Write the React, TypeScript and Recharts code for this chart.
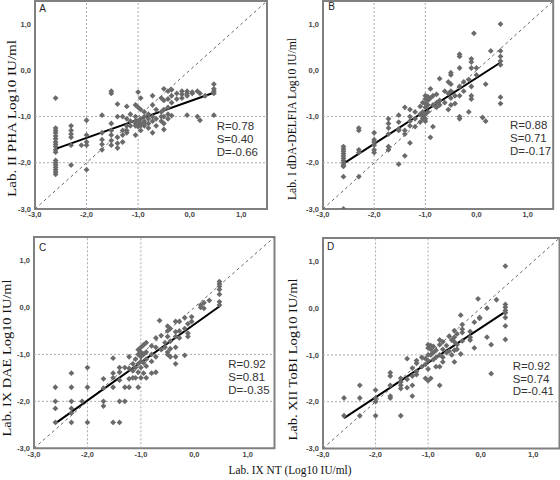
import React from 'react';
import {
  ScatterChart,
  Scatter,
  XAxis,
  YAxis,
  ZAxis,
  ReferenceLine,
  ReferenceArea
} from 'recharts';

type Col = [number, number[]];
type Pt = { x: number; y: number };

const TICKS = [-3, -2, -1, 0, 1];
const DOMAIN: [number, number] = [-3, 1.5];
const GRID = [-2, -1];

// Lab. II PHA vs Lab. IX NT
const colsA: Col[] = [
  [-2.6, [-0.6, -1.25, -1.3, -1.35, -1.42, -1.48, -1.55, -1.6, -1.65, -1.72, -1.77, -1.95, -2.0, -2.05, -2.1, -2.15, -2.2, -2.25]],
  [-2.3, [-1.2, -1.3, -1.38, -1.45, -1.62, -2.05]],
  [-2.1, [-1.62]],
  [-2.0, [-1.08, -1.4, -1.55, -1.62, -2.15]],
  [-1.7, [-0.97, -1.35, -1.5, -1.6, -1.72]],
  [-1.52, [-0.45, -0.5, -1.15, -1.3, -1.4, -1.52, -1.62]],
  [-1.4, [-0.73, -1.0, -1.45, -1.58, -1.68]],
  [-1.3, [-1.0, -1.3, -1.4, -1.55]],
  [-1.22, [-0.78, -1.05, -1.2, -1.3, -1.35]],
  [-1.15, [-0.95, -1.1, -1.2]],
  [-1.05, [-0.75, -1.0, -1.1, -1.15, -1.2, -1.4]],
  [-1.0, [-0.47, -0.8, -1.1, -1.18, -1.22]],
  [-0.95, [-0.6, -0.85, -1.05, -1.15, -1.2, -1.3]],
  [-0.88, [-0.9, -1.0, -1.1, -1.15, -1.2]],
  [-0.8, [-0.95, -1.05, -1.15, -1.25]],
  [-0.72, [-0.55, -0.75, -1.0, -1.1, -1.35]],
  [-0.65, [-0.85, -1.05, -1.2]],
  [-0.55, [-0.6, -0.9, -1.0, -1.1]],
  [-0.5, [-0.4, -0.65, -0.85, -1.0, -1.15, -1.28]],
  [-0.42, [-0.45, -0.62, -0.8, -0.95, -1.05]],
  [-0.35, [-0.42, -0.55, -0.7, -0.98]],
  [-0.25, [-0.5, -0.62]],
  [-0.15, [-0.45, -0.52, -0.6]],
  [-0.05, [-0.45, -0.5, -0.55, -0.97]],
  [0.05, [-0.47, -0.5]],
  [0.15, [-0.45, -1.0]],
  [0.2, [-0.5, -1.08]],
  [0.3, [-0.55]],
  [0.47, [-0.3, -0.4, -0.45, -0.5, -0.97]]
];

// Lab. I dDA-DELFIA
const colsB: Col[] = [
  [-2.6, [-1.65, -1.7, -1.75, -1.8, -1.85, -1.9, -1.95, -2.0, -2.05, -2.08, -2.3, -3.0]],
  [-2.3, [-1.25, -1.3, -1.72, -1.78, -2.3]],
  [-2.0, [-1.35, -1.5, -1.55, -1.62, -1.72, -1.78]],
  [-1.72, [-1.05, -1.15, -1.25, -1.38, -1.65, -1.72]],
  [-1.52, [-0.97, -1.12, -1.27, -1.3, -2.03]],
  [-1.4, [-0.8, -1.3, -1.38, -1.85]],
  [-1.3, [-0.85, -1.0, -1.1, -1.2, -1.57]],
  [-1.2, [-0.9, -1.05, -1.22]],
  [-1.1, [-0.78, -0.95, -1.12]],
  [-1.05, [-0.7, -0.9, -1.0, -1.05]],
  [-1.0, [-0.55, -0.62, -0.72, -0.8, -0.95, -1.05, -1.1]],
  [-0.95, [-0.57, -0.65, -0.75, -0.9]],
  [-0.9, [-0.4, -0.6, -1.45]],
  [-0.85, [-0.55, -0.75, -1.22]],
  [-0.78, [-0.52, -0.7, -0.8]],
  [-0.72, [-0.18, -0.65, -0.75]],
  [-0.62, [-0.45, -0.7]],
  [-0.55, [-0.25, -0.5, -0.85]],
  [-0.5, [-0.05, -0.1, -0.3, -0.45, -0.6, -0.75]],
  [-0.42, [-0.55, -0.72]],
  [-0.33, [0.35, 0.3, 0.05, -0.35, -0.55, -1.0, -1.05]],
  [-0.25, [-0.25, -0.45]],
  [-0.15, [-0.2, -0.9]],
  [-0.1, [0.25, 0.18, 0.05, -0.35, -0.55, -0.62]],
  [-0.05, [0.8]],
  [0.0, [0.05, -0.1]],
  [0.12, [-1.02]],
  [0.18, [-0.3, -1.1]],
  [0.28, [0.42]],
  [0.47, [1.0, 0.42, 0.3, 0.2, 0.12, -0.58, -0.72]]
];

// Lab. IX DAE
const colsC: Col[] = [
  [-2.6, [-1.7, -2.0, -2.15, -2.45]],
  [-2.3, [-1.4, -1.7, -2.0, -2.15, -2.25, -2.45]],
  [-2.1, [-2.0]],
  [-2.0, [-1.28, -1.7, -2.45]],
  [-1.7, [-1.52, -1.72, -2.0, -2.1]],
  [-1.52, [-1.08, -1.4, -1.5, -1.7, -2.45]],
  [-1.4, [-1.28, -1.38, -1.55, -2.0, -2.45]],
  [-1.3, [-1.28, -1.7, -2.0]],
  [-1.22, [-1.05, -1.3, -1.52, -1.7]],
  [-1.15, [-1.2, -1.35, -1.5]],
  [-1.1, [-1.1, -1.28, -1.5]],
  [-1.05, [-0.9, -1.0, -1.2, -1.38, -1.7]],
  [-1.0, [-0.85, -0.95, -1.05, -1.15, -1.28, -1.5]],
  [-0.95, [-0.8, -1.0, -1.18, -1.4]],
  [-0.9, [-0.75, -0.95, -1.1, -1.25, -1.5]],
  [-0.8, [-0.82, -1.0, -1.15, -1.4]],
  [-0.72, [-0.65, -0.85, -1.05, -1.38]],
  [-0.65, [-0.28]],
  [-0.62, [-0.6, -0.9]],
  [-0.55, [-0.75, -0.85]],
  [-0.5, [-0.4, -0.5, -0.62, -0.95, -1.0]],
  [-0.45, [-0.45, -0.72, -0.88, -1.05]],
  [-0.35, [-0.3, -0.52, -0.62, -0.85, -1.05, -1.2]],
  [-0.28, [-0.3, -0.5, -0.65]],
  [-0.18, [-0.22, -0.45, -1.02]],
  [-0.12, [-0.35, -0.55, -0.62]],
  [-0.05, [-0.3, -0.2]],
  [0.12, [0.05, 0.0]],
  [0.18, [0.1, -0.02]],
  [0.28, [0.15]],
  [0.47, [0.55, 0.5, 0.45, 0.38, 0.28, 0.12, 0.05]]
];

// Lab. XII ToBI
const colsD: Col[] = [
  [-2.6, [-1.92, -2.3]],
  [-2.3, [-1.65, -1.92, -2.3]],
  [-2.0, [-1.75, -1.92, -2.0, -2.3]],
  [-1.72, [-1.38, -1.45, -1.65, -1.88, -1.92]],
  [-1.52, [-1.5, -1.58, -1.65, -1.72, -2.3]],
  [-1.4, [-1.08, -1.52, -1.7]],
  [-1.3, [-1.28, -1.45, -1.65, -1.88]],
  [-1.22, [-1.12, -1.18, -1.35, -1.42]],
  [-1.12, [-1.05, -1.25]],
  [-1.05, [-1.08, -1.2, -1.5]],
  [-1.0, [-0.78, -0.85, -1.0, -1.12, -1.3, -1.55]],
  [-0.95, [-0.8, -0.88, -1.0, -1.5]],
  [-0.9, [-0.82, -0.95, -1.1]],
  [-0.85, [-0.9, -1.05, -1.25]],
  [-0.78, [-0.68, -0.78, -1.0, -1.25, -1.65]],
  [-0.72, [-0.72, -0.88, -1.05, -1.15]],
  [-0.65, [-0.8, -0.95]],
  [-0.6, [-0.6, -0.92]],
  [-0.55, [-0.68, -1.0]],
  [-0.5, [-0.48, -0.62, -0.72, -0.9, -1.15]],
  [-0.45, [-0.55, -0.78, -0.88]],
  [-0.38, [-0.15, -0.98]],
  [-0.35, [-0.35, -0.45, -0.52, -0.7]],
  [-0.2, [-0.5, -0.62, -0.68]],
  [-0.12, [-0.3, -0.85]],
  [-0.05, [0.2]],
  [-0.02, [-0.2, -0.22]],
  [0.12, [0.0, -0.62]],
  [0.2, [-0.78, -1.4]],
  [0.3, [0.18]],
  [0.47, [0.9, 0.08, 0.02, -0.05, -0.1, -0.2, -0.38, -0.67]]
];

const fitA: Pt[] = [{ x: -2.6, y: -1.7 }, { x: 0.48, y: -0.48 }];
const fitB: Pt[] = [{ x: -2.6, y: -2.02 }, { x: 0.47, y: 0.17 }];
const fitC: Pt[] = [{ x: -2.6, y: -2.47 }, { x: 0.48, y: 0.03 }];
const fitD: Pt[] = [{ x: -2.6, y: -2.35 }, { x: 0.48, y: -0.07 }];

const statsA = ['R=0.78', 'S=0.40', 'D=-0.66'];
const statsB = ['R=0.88', 'S=0.71', 'D=-0.17'];
const statsC = ['R=0.92', 'S=0.81', 'D=-0.35'];
const statsD = ['R=0.92', 'S=0.74', 'D=-0.41'];

const X_TITLE = 'Lab. IX NT (Log10 IU/ml)';

const PANELS = [
  { letter: 'A', cols: colsA, fit: fitA, stats: statsA, title: 'Lab. II PHA Log10 IU/ml',
    box: [35, 1, 267, 209], tx: 12, ty: 118.5, tlen: 157, sx: 216.7, sy: 126, lx: 42.7, ly: 8.3 },
  { letter: 'B', cols: colsB, fit: fitB, stats: statsB, title: 'Lab. I dDA-DELFIA Log10 IU/ml',
    box: [323.3, 1, 553.5, 209], tx: 292, ty: 119, tlen: 162, sx: 510, sy: 125, lx: 331.7, ly: 6.7 },
  { letter: 'C', cols: colsC, fit: fitC, stats: statsC, title: 'Lab. IX DAE Log10 IU/ml',
    box: [33.5, 237, 274, 448.3], tx: 7, ty: 358, tlen: 157, sx: 228.3, sy: 364, lx: 42.7, ly: 247 },
  { letter: 'D', cols: colsD, fit: fitD, stats: statsD, title: 'Lab. XII ToBI Log10 IU/ml',
    box: [322.5, 238, 559, 448.5], tx: 293, ty: 359.5, tlen: 162, sx: 512.7, sy: 365.7, lx: 330.7, ly: 246.7 }
];

const SANS = '"Liberation Sans", Arial, sans-serif';
const SERIF = '"Liberation Serif", "Times New Roman", serif';

const fmt = (v: number) => v.toFixed(1).replace('.', ',');
const flatten = (cols: Col[]) => cols.flatMap(([x, ys]) => ys.map(y => ({ x, y })));

const tickStyle = { fontSize: 7.5, fontFamily: SANS, fontWeight: 'bold', fill: '#444' };

const Diamond = (props: any) => {
  const { cx, cy } = props;
  const r = 2.9;
  return (
    <path
      d={`M${cx},${cy - r}L${cx + r},${cy}L${cx},${cy + r}L${cx - r},${cy}Z`}
      fill="#6a6a6a"
    />
  );
};

function Panel ({ p }: { p: typeof PANELS[number] }) {
  const [x0, y0, x1, y1] = p.box;
  const YW = 40;
  const XH = 20;
  const MT = 2;
  const MR = 2;

  return (
    <div style={{ position: 'absolute', left: x0 - YW, top: y0 - MT }}>
      <ScatterChart
        width={YW + (x1 - x0) + MR}
        height={MT + (y1 - y0) + XH}
        margin={{ top: MT, right: MR, bottom: 0, left: 0 }}
      >
        <XAxis
          type="number"
          dataKey="x"
          domain={DOMAIN}
          ticks={TICKS}
          interval={0}
          allowDataOverflow
          height={XH}
          tickFormatter={fmt}
          tick={tickStyle}
          tickLine={false}
          axisLine={false}
          tickSize={0}
          tickMargin={3}
        />
        <YAxis
          type="number"
          dataKey="y"
          domain={DOMAIN}
          ticks={TICKS}
          interval={0}
          allowDataOverflow
          width={YW}
          tickFormatter={fmt}
          tick={tickStyle}
          tickLine={false}
          axisLine={false}
          tickSize={0}
          tickMargin={4}
        />
        <ZAxis range={[20, 20]} />
        {GRID.map(v => (
          <ReferenceLine key={`gx${v}`} x={v} stroke="#aaa" strokeDasharray="2 2" />
        ))}
        {GRID.map(v => (
          <ReferenceLine key={`gy${v}`} y={v} stroke="#aaa" strokeDasharray="2 2" />
        ))}
        <ReferenceLine
          segment={[{ x: DOMAIN[0], y: DOMAIN[0] }, { x: DOMAIN[1], y: DOMAIN[1] }]}
          stroke="#666"
          strokeDasharray="3 3"
        />
        <Scatter data={flatten(p.cols)} fill="#6a6a6a" shape={Diamond} isAnimationActive={false} />
        <ReferenceLine segment={p.fit} stroke="#000" strokeWidth={2} />
        <ReferenceArea
          x1={DOMAIN[0]}
          x2={DOMAIN[1]}
          y1={DOMAIN[0]}
          y2={DOMAIN[1]}
          fill="none"
          fillOpacity={0}
          stroke="#808080"
          strokeWidth={2}
        />
      </ScatterChart>
    </div>
  );
}

export default function App () {
  return (
    <div style={{ position: 'absolute', left: 0, top: 0, width: 560, height: 480, background: '#fff' }}>
      {PANELS.map(p => <Panel key={p.letter} p={p} />)}
      <svg
        width={560}
        height={480}
        style={{ position: 'absolute', left: 0, top: 0, pointerEvents: 'none' }}
      >
        {PANELS.map(p => (
          <g key={p.letter}>
            <text
              transform={`translate(${p.tx},${p.ty}) rotate(-90)`}
              textAnchor="middle"
              dy="0.35em"
              fontSize={12.5}
              fontFamily={SERIF}
              fill="#111"
              textLength={p.tlen}
              lengthAdjust="spacingAndGlyphs"
            >
              {p.title}
            </text>
            <text x={p.lx} y={p.ly} dy="0.35em" textAnchor="middle" fontSize={10} fontFamily={SANS} fill="#222">
              {p.letter}
            </text>
            {p.stats.map((s, i) => (
              <text key={s} x={p.sx} y={p.sy + i * 12.8} dy="0.36em" fontSize={11.5} fontFamily={SANS} fill="#333">
                {s}
              </text>
            ))}
          </g>
        ))}
        <text
          x={290}
          y={470}
          dy="0.35em"
          textAnchor="middle"
          fontSize={12}
          fontFamily={SERIF}
          fill="#111"
          textLength={123}
          lengthAdjust="spacingAndGlyphs"
        >
          {X_TITLE}
        </text>
      </svg>
    </div>
  );
}
